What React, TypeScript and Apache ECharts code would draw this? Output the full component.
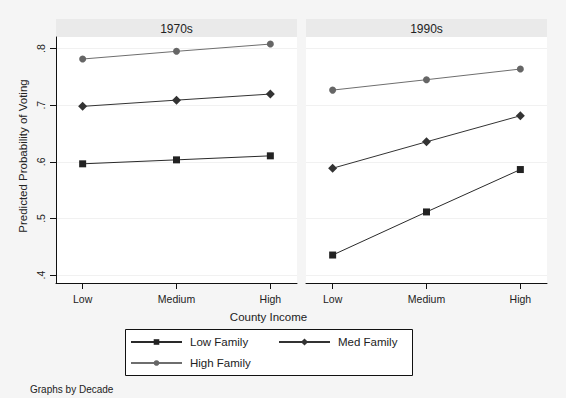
import React, { useEffect, useRef } from "react";
import * as echarts from "echarts";

const incomeLevels = ["Low", "Medium", "High"];
const panels = ["1970s", "1990s"];
const familyNames = ["Low Family", "Med Family", "High Family"];
// values per panel, per family, across Low/Medium/High county income
const low1970 = [0.5965, 0.6035, 0.6106];
const med1970 = [0.698, 0.709, 0.7197];
const high1970 = [0.7816, 0.7952, 0.808];
const low1990 = [0.4354, 0.5115, 0.5864];
const med1990 = [0.5887, 0.6354, 0.6814];
const high1990 = [0.7267, 0.7451, 0.7639];
const yTicks = [0.4, 0.5, 0.6, 0.7, 0.8];

const FONT = "'Liberation Sans', Arial, Helvetica, sans-serif";

const familyStyles = [
  { symbol: "rect", symbolSize: 7, color: "#222222", line: "#2a2a2a" },
  { symbol: "diamond", symbolSize: 9, color: "#333333", line: "#333333" },
  { symbol: "circle", symbolSize: 7, color: "#666666", line: "#6e6e6e" },
];

export default function App() {
  const ref = useRef<HTMLDivElement>(null);
  useEffect(() => {
    if (!ref.current) return;
    const chart = echarts.init(ref.current, undefined, { renderer: "svg" });
    const gridLefts = [56, 306];
    const gridW = 241;
    const gridTop = 37;
    const gridH = 246;
    const panelData = [
      [low1970, med1970, high1970],
      [low1990, med1990, high1990],
    ];
    const series: any[] = [];
    panelData.forEach((fams, p) => {
      fams.forEach((vals, f) => {
        const st = familyStyles[f];
        series.push({
          type: "line",
          name: familyNames[f],
          xAxisIndex: p,
          yAxisIndex: p,
          data: vals.map((v, i) => [i, v]),
          symbol: st.symbol,
          symbolSize: st.symbolSize,
          itemStyle: { color: st.color },
          lineStyle: { color: st.line, width: 1 },
          emphasis: { disabled: true },
        });
      });
    });
    const xAxes = [0, 1].map((p) => ({
      type: "value",
      gridIndex: p,
      min: -0.284,
      max: 2.284,
      axisLine: { show: true, onZero: false, lineStyle: { color: "#111", width: 1 } },
      axisTick: {
        show: true,
        length: 6,
        customValues: [0, 1, 2],
        lineStyle: { color: "#111" },
      },
      axisLabel: {
        customValues: [0, 1, 2],
        formatter: (v: number) => incomeLevels[Math.round(v)],
        fontFamily: FONT,
        fontSize: 10.5,
        color: "#222",
        margin: 10,
      },
      splitLine: { show: false },
    }));
    const yAxes = [0, 1].map((p) => ({
      type: "value",
      gridIndex: p,
      min: 0.386,
      max: 0.8205,
      axisLine: { show: p === 0, onZero: false, lineStyle: { color: "#111", width: 1 } },
      axisTick: {
        show: p === 0,
        length: 6,
        customValues: yTicks,
        lineStyle: { color: "#111" },
      },
      axisLabel: {
        show: p === 0,
        customValues: yTicks,
        rotate: 90,
        formatter: (v: number) => v.toFixed(1).replace(/^0/, ""),
        fontFamily: FONT,
        fontSize: 10.5,
        color: "#222",
        margin: 10,
      },
      splitLine: {
        show: true,
        lineStyle: { color: "#f1f1f1", width: 1 },
      },
    }));
    const graphics: any[] = [];
    panels.forEach((t, p) => {
      graphics.push({
        type: "rect",
        shape: { x: gridLefts[p], y: 19, width: gridW, height: 18 },
        style: { fill: "#eaeaea" },
        silent: true,
        z: 0,
      });
      graphics.push({
        type: "rect",
        shape: { x: gridLefts[p], y: gridTop, width: gridW, height: gridH },
        style: { fill: "#ffffff" },
        silent: true,
        z: -10,
      });
      graphics.push({
        type: "text",
        x: gridLefts[p] + gridW / 2,
        y: 28.5,
        style: {
          text: t,
          font: `12px ${FONT}`,
          fill: "#222",
          textAlign: "center",
          textVerticalAlign: "middle",
        },
        silent: true,
      });
    });
    graphics.push({
      type: "text",
      x: 23,
      y: 156,
      rotation: Math.PI / 2,
      style: {
        text: "Predicted Probability of Voting",
        font: `11.5px ${FONT}`,
        fill: "#222",
        textAlign: "center",
        textVerticalAlign: "middle",
      },
      silent: true,
    });
    graphics.push({
      type: "text",
      x: 268.5,
      y: 317,
      style: {
        text: "County Income",
        font: `11.5px ${FONT}`,
        fill: "#222",
        textAlign: "center",
        textVerticalAlign: "middle",
      },
      silent: true,
    });
    graphics.push({
      type: "rect",
      shape: { x: 125.5, y: 329.5, width: 287, height: 46 },
      style: { fill: "#ffffff", stroke: "#111", lineWidth: 1 },
      silent: true,
      z: -5,
    });
    graphics.push({
      type: "text",
      x: 30,
      y: 389,
      style: {
        text: "Graphs by Decade",
        font: `10px ${FONT}`,
        fill: "#222",
        textAlign: "left",
        textVerticalAlign: "middle",
      },
      silent: true,
    });
    const legendCommon = {
      orient: "horizontal",
      itemWidth: 51,
      selectedMode: false,
      textStyle: { fontFamily: FONT, fontSize: 11.5, color: "#222", padding: [0, 0, 0, 3] },
      padding: 0,
    };
    chart.setOption({
      animation: false,
      backgroundColor: "#f5f5f5",
      grid: gridLefts.map((l) => ({
        left: l,
        top: gridTop,
        width: gridW,
        height: gridH,
        containLabel: false,
      })),
      xAxis: xAxes,
      yAxis: yAxes,
      series,
      legend: [
        { ...legendCommon, data: [familyNames[0]], itemHeight: 7, left: 130, top: 336 },
        { ...legendCommon, data: [familyNames[1]], itemHeight: 9, left: 278, top: 336 },
        { ...legendCommon, data: [familyNames[2]], itemHeight: 7, left: 130, top: 357 },
      ],
      graphic: graphics,
    });
    return () => chart.dispose();
  }, []);
  return (
    <div
      ref={ref}
      style={{ position: "absolute", left: 0, top: 0, width: 566, height: 398 }}
    />
  );
}
